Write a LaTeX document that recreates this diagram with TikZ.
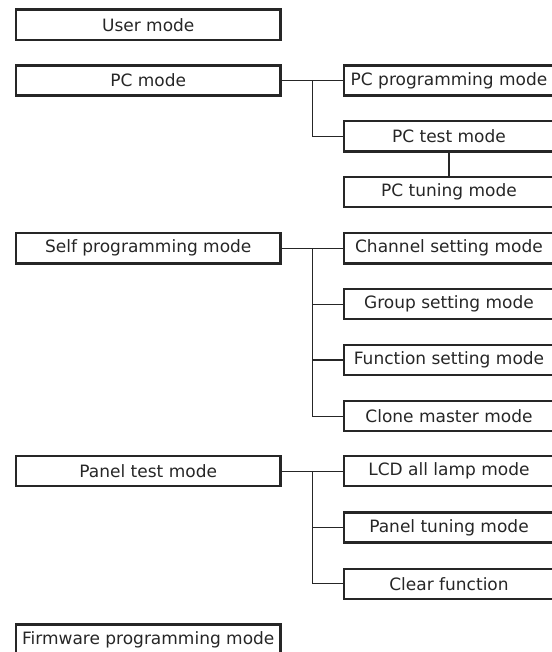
\documentclass[tikz,border=0pt]{standalone}
\usepackage{fontspec}
\setmainfont{DejaVu Sans}
\definecolor{ink}{HTML}{262626}
\tikzset{
  modebox/.style={draw=ink,line width=2.4pt,text=ink,inner sep=0pt,
    minimum height=30.1pt,font=\fontsize{17}{20}\selectfont},
  leftbox/.style={modebox,minimum width=264.6pt},
  rightbox/.style={modebox,minimum width=210.2pt},
  link/.style={draw=ink,line width=1.1pt}
}
\begin{document}
\begin{tikzpicture}[x=1pt,y=-1pt]
    \useasboundingbox (0,0) rectangle (551,652);
    % left column
    \node[leftbox] (user) at (148.25,24.7) {User mode};
    \node[leftbox] (pc) at (148.25,80.5) {PC mode};
    \node[leftbox] (self) at (148.25,248.3) {Self programming mode};
    \node[leftbox] (panel) at (148.25,471.2) {Panel test mode};
    \node[leftbox] (firm) at (148.25,639.5) {Firmware programming mode};
    % right column
    \node[rightbox] (pcprog) at (449,80.5) {PC programming mode};
    \node[rightbox] (pctest) at (449,136.3) {PC test mode};
    \node[rightbox] (pctune) at (449,192.2) {PC tuning mode};
    \node[rightbox] (chan) at (449,248.3) {Channel setting mode};
    \node[rightbox] (group) at (449,304.2) {Group setting mode};
    \node[rightbox] (func) at (449,360) {Function setting mode};
    \node[rightbox] (clone) at (449,416.2) {Clone master mode};
    \node[rightbox] (lcd) at (449,471.2) {LCD all lamp mode};
    \node[rightbox] (ptune) at (449,527.5) {Panel tuning mode};
    \node[rightbox] (clear) at (449,583.9) {Clear function};
    % connectors
    \coordinate (bus) at (312.7,0);
    \draw[link] (pc.east) -- (pcprog.west);
    \draw[link] (bus |- pc.east) |- (pctest.west);
    \draw[link] (pctest.south) -- (pctune.north);
    \draw[link] (self.east) -- (chan.west);
    \draw[link] (bus |- self.east) |- (clone.west);
    \foreach \n in {group,func} {
      \draw[link] (bus |- \n.west) -- (\n.west);
    }
    \draw[link] (panel.east) -- (lcd.west);
    \draw[link] (bus |- panel.east) |- (clear.west);
    \draw[link] (bus |- ptune.west) -- (ptune.west);
\end{tikzpicture}
\end{document}
